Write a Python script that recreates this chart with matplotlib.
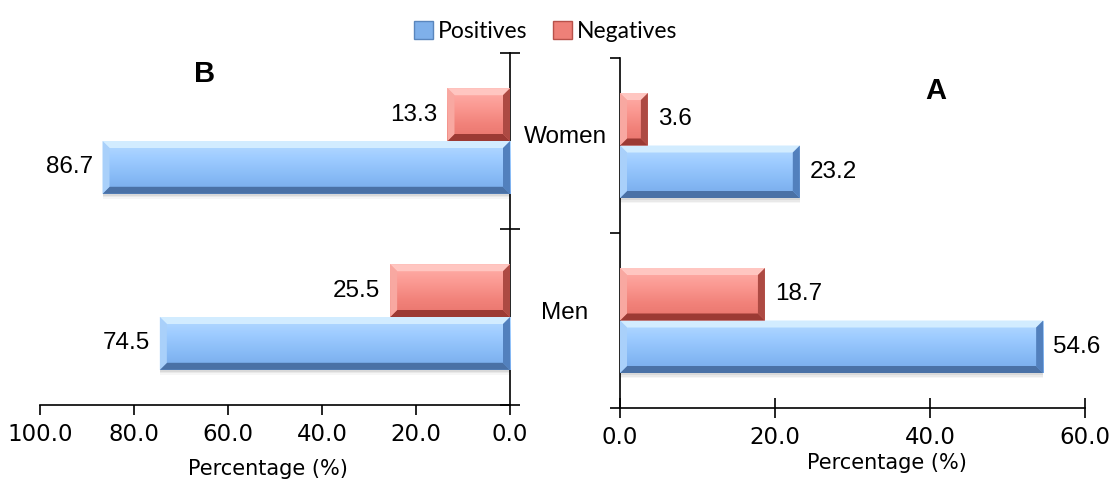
import numpy as np
import matplotlib.pyplot as plt
import matplotlib.transforms as mtransforms
from matplotlib.patches import Polygon, Rectangle, Patch
from matplotlib.colors import LinearSegmentedColormap
from matplotlib.ticker import FormatStrFormatter

# data
groups = ["Men", "Women"]
pos_b = [74.5, 86.7]
neg_b = [25.5, 13.3]
pos_a = [54.6, 23.2]
neg_a = [18.7, 3.6]
ticks_b = [100, 80, 60, 40, 20, 0]
ticks_a = [0, 20, 40, 60]

W, H = 1120, 487
BAR_H = 0.3
BEVEL = 7  # px

BLUE = dict(face=["#b6dbff", "#9dcbff", "#88bbf6", "#76a9ea"],
            top="#d2ecff", bottom="#4a71a6", left="#a9d0fa", right="#5280bd",
            legend="#7fb0ea")
RED = dict(face=["#ffb0aa", "#fb9a93", "#f2837b", "#e8736b"],
           top="#ffc6c1", bottom="#9c3a34", left="#f8a8a1", right="#ad4a43",
           legend="#ee8078")

plt.rcParams['font.family'] = ['Liberation Sans', 'DejaVu Sans']


def px_to_data(ax):
    pos = ax.get_position()
    x0, x1 = ax.get_xlim()
    y0, y1 = ax.get_ylim()
    sx = abs(x1 - x0) / (pos.width * W)
    sy = abs(y1 - y0) / (pos.height * H)
    return BEVEL * sx, BEVEL * sy, sx, sy


def bevel_bar(ax, yc, value, style, inverted=False):
    # plain bar first so the value goes through the axis scale
    bar = ax.barh(yc, value, height=BAR_H, color=style["face"][2], zorder=2)[0]
    x0, y0 = bar.get_x(), bar.get_y()
    x1, y1 = x0 + bar.get_width(), y0 + bar.get_height()
    bx, by, sx, sy = px_to_data(ax)
    bx = min(bx, (x1 - x0) / 2)

    # soft drop shadow
    for k, a in zip([5, 3.5, 2], [0.07, 0.1, 0.15]):
        ax.add_patch(Rectangle((x0, y0 - k * sy), x1 - x0, y1 - y0,
                               color="#808080", alpha=a, lw=0, zorder=1))

    # vertical gradient on the face, light at the top
    cmap = LinearSegmentedColormap.from_list("g", style["face"])
    grad = np.linspace(0, 1, 64).reshape(-1, 1)
    im = ax.imshow(grad, cmap=cmap, aspect="auto", zorder=3,
                   extent=(x0, x1, y0, y1), origin="upper")
    im.set_clip_path(bar)

    # bevel edges (outer end is on the right for normal axes, left when inverted)
    near, far = (x1, x0) if inverted else (x0, x1)
    s = -1 if inverted else 1
    top = [(x0, y1), (x1, y1), (x1 - bx, y1 - by), (x0 + bx, y1 - by)]
    bot = [(x0, y0), (x1, y0), (x1 - bx, y0 + by), (x0 + bx, y0 + by)]
    start = [(near, y0), (near, y1), (near + s * bx, y1 - by), (near + s * bx, y0 + by)]
    end = [(far, y0), (far, y1), (far - s * bx, y1 - by), (far - s * bx, y0 + by)]
    ax.add_patch(Polygon(top, closed=True, color=style["top"], lw=0, zorder=4))
    ax.add_patch(Polygon(bot, closed=True, color=style["bottom"], lw=0, zorder=4))
    ax.add_patch(Polygon(start, closed=True, color=style["left"], lw=0, zorder=4))
    ax.add_patch(Polygon(end, closed=True, color=style["right"], lw=0, zorder=4))
    return bar


fig = plt.figure(figsize=(W / 100, H / 100), dpi=100)
ax_b = fig.add_axes([40 / W, 1 - 405 / H, 470 / W, 352 / H])
ax_a = fig.add_axes([620 / W, 1 - 408 / H, 465 / W, 350 / H])

y = np.arange(len(groups))
LBL = 17.5

# panel B, reversed axis
ax_b.set_xlim(100, 0)
ax_b.set_ylim(-0.5, 1.5)
for i in range(len(groups)):
    bevel_bar(ax_b, y[i] - BAR_H / 2, pos_b[i], BLUE, inverted=True)
    ax_b.annotate(f"{pos_b[i]:.1f}", (pos_b[i], y[i] - BAR_H / 2), xytext=(-7, 0),
                  textcoords="offset points", ha="right", va="center", fontsize=LBL)
    bevel_bar(ax_b, y[i] + BAR_H / 2, neg_b[i], RED, inverted=True)
    ax_b.annotate(f"{neg_b[i]:.1f}", (neg_b[i], y[i] + BAR_H / 2), xytext=(-7, 0),
                  textcoords="offset points", ha="right", va="center", fontsize=LBL)
ax_b.set_xlim(100, 0)
ax_b.set_ylim(-0.5, 1.5)
ax_b.set_xticks(ticks_b)
ax_b.xaxis.set_major_formatter(FormatStrFormatter("%.1f"))
ax_b.set_yticks([-0.5, 0.5, 1.5])
ax_b.set_yticklabels([])
ax_b.yaxis.tick_right()
for sp in ["top", "left"]:
    ax_b.spines[sp].set_visible(False)
ax_b.tick_params(axis="y", direction="inout", length=14, width=1.2, right=True, left=False)
ax_b.tick_params(axis="x", direction="out", length=7, width=1.2, pad=6)
ax_b.set_xlabel("Percentage (%)", fontsize=15, x=0.485, labelpad=9, family="DejaVu Sans")
ax_b.text(0.35, 0.94, "B", transform=ax_b.transAxes, fontsize=21, fontweight="bold",
          ha="center", va="center")

# panel A
ax_a.set_xlim(0, 60)
ax_a.set_ylim(-0.5, 1.5)
for i in range(len(groups)):
    bevel_bar(ax_a, y[i] - BAR_H / 2, pos_a[i], BLUE)
    ax_a.annotate(f"{pos_a[i]:.1f}", (pos_a[i], y[i] - BAR_H / 2), xytext=(7, 0),
                  textcoords="offset points", ha="left", va="center", fontsize=LBL)
    bevel_bar(ax_a, y[i] + BAR_H / 2, neg_a[i], RED)
    ax_a.annotate(f"{neg_a[i]:.1f}", (neg_a[i], y[i] + BAR_H / 2), xytext=(7, 0),
                  textcoords="offset points", ha="left", va="center", fontsize=LBL)
ax_a.set_xlim(0, 60)
ax_a.set_ylim(-0.5, 1.5)
ax_a.set_xticks(ticks_a)
ax_a.xaxis.set_major_formatter(FormatStrFormatter("%.1f"))
ax_a.set_yticks([-0.5, 0.5, 1.5])
ax_a.set_yticklabels([])
for sp in ["top", "right"]:
    ax_a.spines[sp].set_visible(False)
ax_a.tick_params(axis="y", direction="out", length=7, width=1.2)
ax_a.tick_params(axis="x", direction="inout", length=14, width=1.2, pad=6)
ax_a.set_xlabel("Percentage (%)", fontsize=15, x=0.574, labelpad=3, family="DejaVu Sans")
ax_a.text(0.68, 0.905, "A", transform=ax_a.transAxes, fontsize=21, fontweight="bold",
          ha="center", va="center")

for ax in (ax_a, ax_b):
    for sp in ax.spines.values():
        sp.set_linewidth(1.2)
    for lab in ax.get_xticklabels():
        lab.set_family("DejaVu Sans")
        lab.set_fontsize(16.5)

# group names between the two panels
trans = mtransforms.blended_transform_factory(fig.transFigure, ax_b.transData)
for i, g in enumerate(groups):
    fig.text(565 / W, y[i] + 0.02, g, transform=trans, ha="center", va="center", fontsize=LBL)

handles = [Patch(facecolor=BLUE["legend"], edgecolor="#5a86bd", label="Positives"),
           Patch(facecolor=RED["legend"], edgecolor="#b8514a", label="Negatives")]
fig.legend(handles=handles, loc="upper center", bbox_to_anchor=(0.487, 1.0), ncol=2,
           frameon=False, handlelength=0.85, handleheight=0.85, handletextpad=0.2,
           columnspacing=1.1, prop={"family": "Lato", "size": 16.5})

fig.savefig("out.png", dpi=100)
